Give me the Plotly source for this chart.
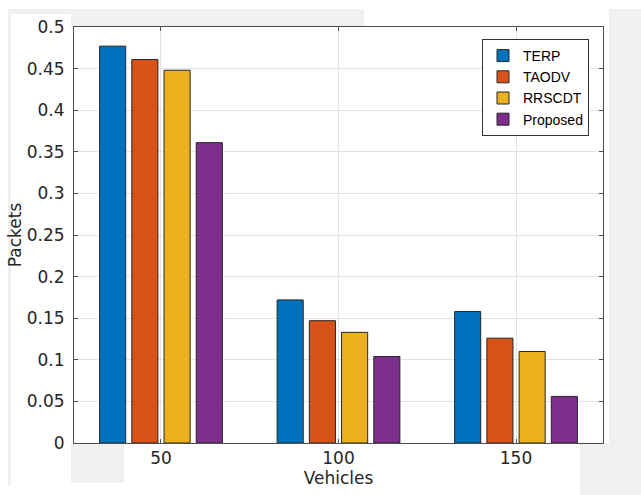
import plotly.graph_objects as go

# ---- data ----
vehicles = [50, 100, 150]
terp = [0.477, 0.172, 0.158]
taodv = [0.461, 0.147, 0.126]
rrscdt = [0.448, 0.133, 0.110]
proposed = [0.361, 0.104, 0.056]
series_names = ["TERP", "TAODV", "RRSCDT", "Proposed"]
y_tick_vals = [0, 0.05, 0.1, 0.15, 0.2, 0.25, 0.3, 0.35, 0.4, 0.45, 0.5]
y_tick_text = ["0", "0.05", "0.1", "0.15", "0.2", "0.25", "0.3", "0.35", "0.4", "0.45", "0.5"]
x_tick_text = ["50", "100", "150"]

colors = ["#0072BD", "#D95319", "#EDB120", "#7E2F8E"]

W, H = 641, 495
ML, MR, MT, MB = 74, 38, 27, 52
PW, PH = W - ML - MR, H - MT - MB


def px2paper_x(px):
    return (px - ML) / PW


def px2paper_y(py):
    return (H - MB - py) / PH


fig = go.Figure()
for name, vals, col in zip(series_names, [terp, taodv, rrscdt, proposed], colors):
    fig.add_trace(go.Bar(
        x=vehicles, y=vals, name=name,
        marker=dict(color=col, line=dict(color="#262626", width=1)),
    ))

# background patches (screenshot framing)
GRAY = "#f0f0f0"
rects = [
    (8, 9, 364, 27, GRAY),
    (8, 9, 11, 485, GRAY),
    (11, 14, 71, 483, "#ffffff"),
    (71, 443, 124, 483, GRAY),
    (609, 9, 641, 443, GRAY),
    (580, 443, 641, 495, GRAY),
]
shapes = []
for x0, y0, x1, y1, c in rects:
    shapes.append(dict(
        type="rect", xref="paper", yref="paper", layer="below",
        x0=px2paper_x(x0), x1=px2paper_x(x1),
        y0=px2paper_y(y1), y1=px2paper_y(y0),
        fillcolor=c, line=dict(width=0),
    ))

tick_font = dict(family="DejaVu Sans", size=17, color="#262626")
title_font = dict(family="DejaVu Sans", size=17, color="#262626")
axcol = "#4d4d4d"

fig.update_layout(
    width=W, height=H,
    margin=dict(l=ML, r=MR, t=MT, b=MB, pad=0),
    paper_bgcolor="white", plot_bgcolor="white",
    barmode="group", bargap=0.274, bargroupgap=0.19,
    shapes=shapes,
    showlegend=True,
    legend=dict(
        x=px2paper_x(589), y=px2paper_y(39), xanchor="right", yanchor="top",
        bgcolor="white", bordercolor="#333333", borderwidth=1,
        font=dict(family="Liberation Sans, Arial", size=14, color="#000000"),
        tracegroupgap=0, itemwidth=30,
    ),
    xaxis=dict(
        range=[25.5, 174.5], tickvals=vehicles, ticktext=x_tick_text,
        showgrid=True, gridcolor="#e3e3e3", gridwidth=1,
        showline=True, linecolor=axcol, linewidth=1, mirror="ticks",
        ticks="inside", ticklen=4, tickcolor=axcol,
        tickfont=tick_font, ticklabelstandoff=0,
        title=dict(text="Vehicles", font=title_font, standoff=0),
        zeroline=False, automargin=False,
    ),
    yaxis=dict(
        range=[0, 0.5], tickvals=y_tick_vals, ticktext=y_tick_text,
        showgrid=True, gridcolor="#e3e3e3", gridwidth=1,
        showline=True, linecolor=axcol, linewidth=1, mirror="ticks",
        ticks="inside", ticklen=4, tickcolor=axcol,
        tickfont=tick_font, ticklabelstandoff=5,
        title=dict(text="Packets", font=title_font, standoff=0),
        zeroline=False, automargin=False,
    ),
)

fig.write_html("out.html")
